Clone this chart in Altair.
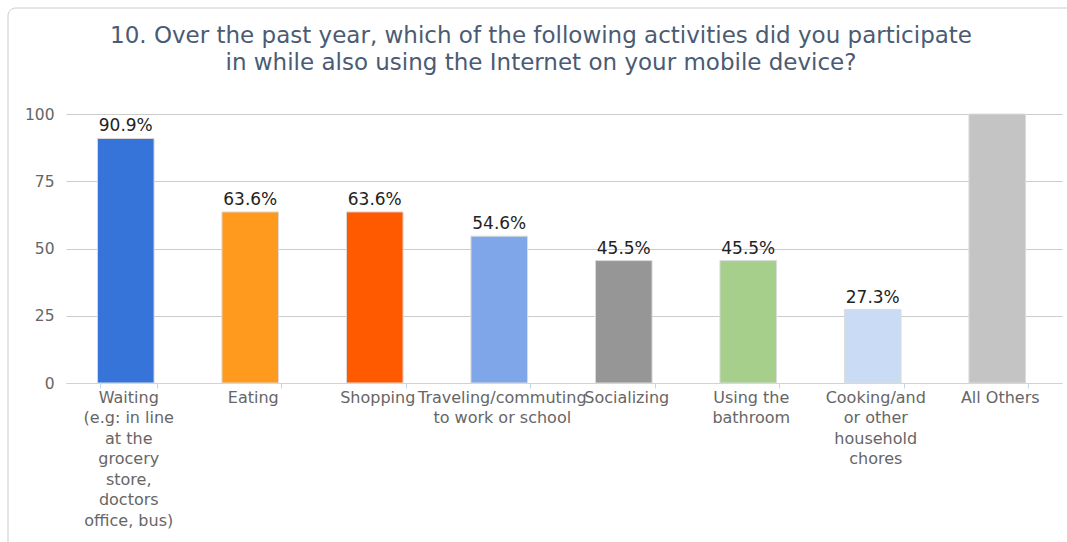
import altair as alt
import pandas as pd

title_lines = [
    "10. Over the past year, which of the following activities did you participate",
    "in while also using the Internet on your mobile device?",
]
categories = [
    "Waiting|(e.g: in line|at the|grocery|store,|doctors|office, bus)",
    "Eating",
    "Shopping",
    "Traveling/commuting|to work or school",
    "Socializing",
    "Using the|bathroom",
    "Cooking/and|or other|household|chores",
    "All Others",
]
values = [90.9, 63.6, 63.6, 54.6, 45.5, 45.5, 27.3, 100]
value_labels = ["90.9%", "63.6%", "63.6%", "54.6%", "45.5%", "45.5%", "27.3%", ""]
colors = ["#3674D9", "#FF9A1E", "#FF5A00", "#7EA6E8", "#969696", "#A6CF8C", "#C9DBF5", "#C4C4C4"]
y_ticks = [0, 25, 50, 75, 100]

df = pd.DataFrame({"cat": categories, "value": values, "label": value_labels, "color": colors})
title_df = pd.DataFrame({"t": [0]})

x_enc = alt.X(
    "cat:N",
    sort=categories,
    scale=alt.Scale(paddingInner=0.545, paddingOuter=0.2725),
    axis=alt.Axis(
        title=None,
        labelExpr="split(datum.label, '|')",
        labelAngle=0,
        labelFontSize=16,
        labelFont="DejaVu Sans",
        labelColor="#666666",
        labelLimit=0,
        labelOverlap=False,
        labelLineHeight=20.5,
        labelPadding=1,
        labelBaseline="top",
        domainColor="#C5D5E8",
        tickColor="#C5D5E8",
        tickSize=5,
        tickBand="extent",
        grid=False,
    ),
)

bars = alt.Chart(df).mark_bar(stroke="#dcdcdc", strokeWidth=1, xOffset=-2.5).encode(
    x=x_enc,
    y=alt.Y(
        "value:Q",
        scale=alt.Scale(domain=[0, 100], nice=False),
        axis=alt.Axis(
            title=None,
            values=y_ticks,
            labelFontSize=15.5,
            labelFont="DejaVu Sans",
            labelColor="#666666",
            labelPadding=12,
            domain=False,
            ticks=False,
            gridColor="#CCCCCC",
            gridWidth=1,
        ),
    ),
    color=alt.Color("color:N", scale=None),
)

text = alt.Chart(df).mark_text(
    baseline="bottom", dy=-3, dx=-2.5, fontSize=17, font="DejaVu Sans", color="#222222"
).encode(
    x=alt.X("cat:N", sort=categories),
    y="value:Q",
    text="label:N",
)

title = alt.Chart(title_df).mark_text(
    align="center", baseline="alphabetic", fontSize=23, font="DejaVu Sans",
    color="#4A5B73", lineHeight=26.5,
).encode(
    x=alt.value(475), y=alt.value(-71), text=alt.value(title_lines)
)

frame = alt.Chart(title_df).mark_rect(
    fill=None, stroke="#CCCCCC", strokeWidth=1, cornerRadius=8
).encode(
    x=alt.value(-58), y=alt.value(-106), x2=alt.value(1030), y2=alt.value(480)
)

chart = alt.layer(frame, title, bars, text).properties(
    width=996,
    height=269,
    background="white",
    autosize=alt.AutoSizeParams(type="none"),
    padding={"left": 66, "top": 114, "right": 5, "bottom": 159},
).configure_view(stroke="transparent", strokeWidth=0)

chart.save("out.html", embed_options={"renderer": "svg", "actions": False})
